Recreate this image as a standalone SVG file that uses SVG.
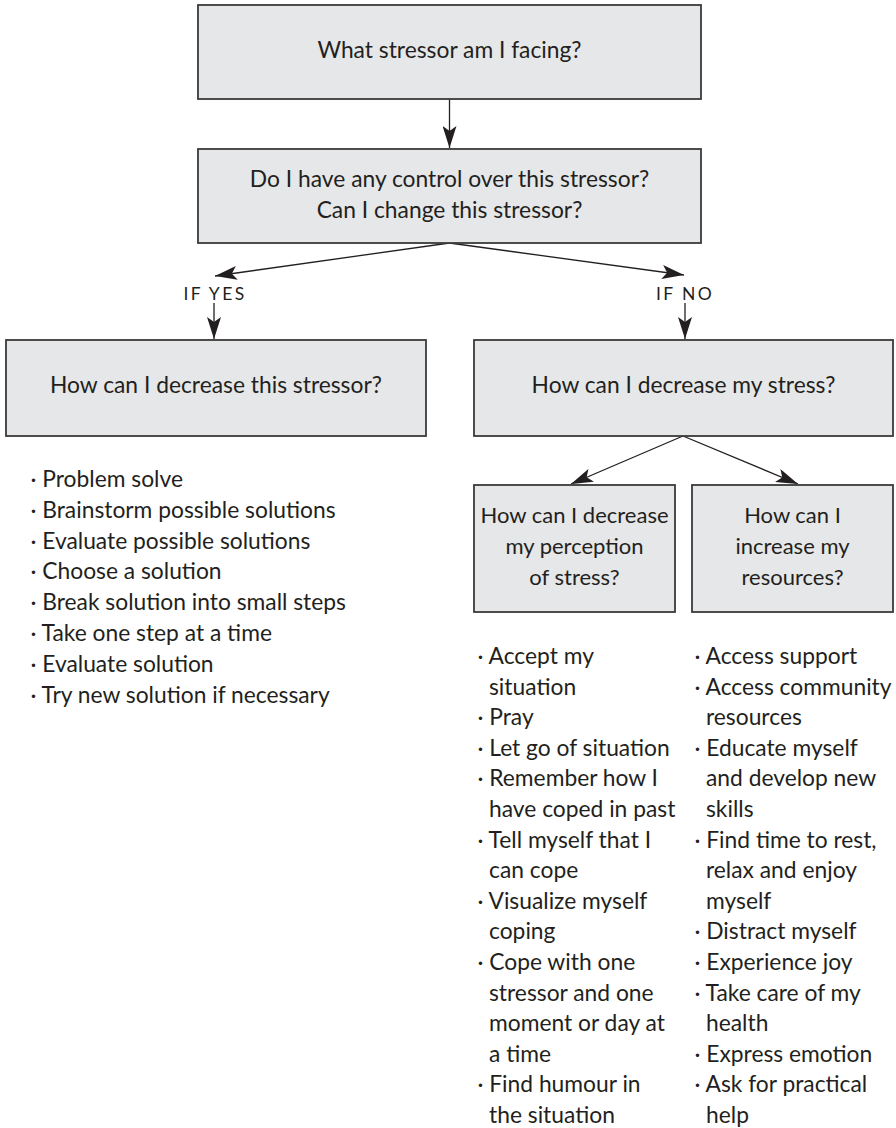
<svg xmlns="http://www.w3.org/2000/svg" width="896" height="1128" viewBox="0 0 896 1128">
<style>
.box{fill:#e6e7e8;stroke:#3a3a3a;stroke-width:1.8}
.t{font-family:Lato,"Noto Sans",sans-serif;font-size:22.8px;fill:#231f20}
.s{font-size:22px}
.c{text-anchor:middle}
.lbl{font-family:Lato,"Noto Sans",sans-serif;font-size:17.5px;fill:#231f20;letter-spacing:2.4px;text-anchor:middle}
.ln{stroke:#231f20;stroke-width:1.3;fill:none;marker-end:url(#ah)}
</style>
<defs>
<marker id="ah" markerWidth="22" markerHeight="14" refX="22" refY="7" orient="auto" markerUnits="userSpaceOnUse">
<path d="M0,0 L22,7 L0,14 L5,7 Z" fill="#231f20"/>
</marker>
</defs>
<rect width="896" height="1128" fill="#fff"/>
<g id="connectors">
<line class="ln" x1="449.5" y1="99" x2="449.5" y2="148"/>
<line class="ln" x1="449.5" y1="243" x2="215" y2="276"/>
<line class="ln" x1="449.5" y1="243" x2="684" y2="275"/>
<line class="ln" x1="214" y1="303" x2="214" y2="339"/>
<line class="ln" x1="685" y1="303" x2="685" y2="339"/>
<line class="ln" x1="683" y1="436" x2="571" y2="484"/>
<line class="ln" x1="683" y1="436" x2="798" y2="484"/>
</g>
<g id="labels">
<text class="lbl" x="215" y="300">IF YES</text>
<text class="lbl" x="685" y="300">IF NO</text>
</g>
<g id="n1">
<rect class="box" x="198" y="5" width="503" height="94"/>
<text class="t c" x="449.5" y="58">What stressor am I facing?</text>
</g>
<g id="n2">
<rect class="box" x="198" y="149" width="503" height="94"/>
<text class="t c" x="449.5" y="187">Do I have any control over this stressor?</text>
<text class="t c" x="449.5" y="218">Can I change this stressor?</text>
</g>
<g id="n3">
<rect class="box" x="6" y="340" width="420" height="96"/>
<text class="t c" x="216" y="393">How can I decrease this stressor?</text>
</g>
<g id="n4">
<rect class="box" x="474" y="340" width="419" height="96"/>
<text class="t c" x="683.5" y="393">How can I decrease my stress?</text>
</g>
<g id="n5">
<rect class="box" x="474" y="485" width="201" height="127"/>
<text class="t s c" x="574.5" y="523">How can I decrease</text>
<text class="t s c" x="574.5" y="554">my perception</text>
<text class="t s c" x="574.5" y="585">of stress?</text>
</g>
<g id="n6">
<rect class="box" x="692" y="485" width="201" height="127"/>
<text class="t s c" x="792.5" y="523">How can I</text>
<text class="t s c" x="792.5" y="554">increase my</text>
<text class="t s c" x="792.5" y="585">resources?</text>
</g>
<g id="list1" class="t">
<text x="30.5" y="487">· Problem solve</text>
<text x="30.5" y="518">· Brainstorm possible solutions</text>
<text x="30.5" y="549">· Evaluate possible solutions</text>
<text x="30.5" y="579">· Choose a solution</text>
<text x="30.5" y="610">· Break solution into small steps</text>
<text x="30.5" y="641">· Take one step at a time</text>
<text x="30.5" y="672">· Evaluate solution</text>
<text x="30.5" y="703">· Try new solution if necessary</text>
</g>
<g id="list2" class="t">
<text x="477.5" y="664">· Accept my</text>
<text x="489" y="695">situation</text>
<text x="477.5" y="725">· Pray</text>
<text x="477.5" y="756">· Let go of situation</text>
<text x="477.5" y="786">· Remember how I</text>
<text x="489" y="817">have coped in past</text>
<text x="477.5" y="848">· Tell myself that I</text>
<text x="489" y="878">can cope</text>
<text x="477.5" y="909">· Visualize myself</text>
<text x="489" y="939">coping</text>
<text x="477.5" y="970">· Cope with one</text>
<text x="489" y="1001">stressor and one</text>
<text x="489" y="1031">moment or day at</text>
<text x="489" y="1062">a time</text>
<text x="477.5" y="1092">· Find humour in</text>
<text x="489" y="1123">the situation</text>
</g>
<g id="list3" class="t">
<text x="694.5" y="664">· Access support</text>
<text x="694.5" y="695">· Access community</text>
<text x="706" y="725">resources</text>
<text x="694.5" y="756">· Educate myself</text>
<text x="706" y="786">and develop new</text>
<text x="706" y="817">skills</text>
<text x="694.5" y="848">· Find time to rest,</text>
<text x="706" y="878">relax and enjoy</text>
<text x="706" y="909">myself</text>
<text x="694.5" y="939">· Distract myself</text>
<text x="694.5" y="970">· Experience joy</text>
<text x="694.5" y="1001">· Take care of my</text>
<text x="706" y="1031">health</text>
<text x="694.5" y="1062">· Express emotion</text>
<text x="694.5" y="1092">· Ask for practical</text>
<text x="706" y="1123">help</text>
</g>
</svg>
